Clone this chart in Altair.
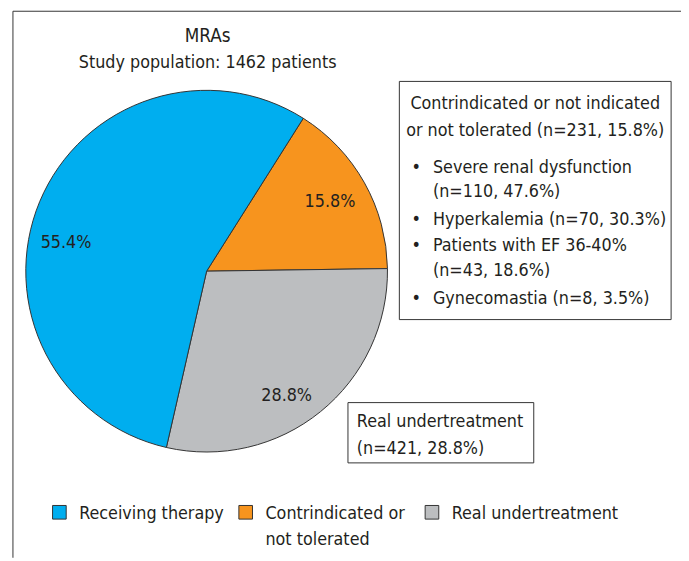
import math
import altair as alt
import pandas as pd

# ---- data ----
categories = ["Contrindicated or not tolerated", "Real undertreatment", "Receiving therapy"]
values = [15.8, 28.8, 55.4]
labels = ["15.8%", "28.8%", "55.4%"]
order = [0, 1, 2]
colors = ["#F7941E", "#BCBEC0", "#00AEEF"]

legend_cats = ["Receiving therapy", "Contrindicated or not tolerated", "Real undertreatment"]

title_lines = ["MRAs", "Study population: 1462 patients"]
box1_head = ["Contrindicated or not indicated", "or not tolerated (n=231, 15.8%)"]
box1_items = [
    ["Severe renal dysfunction", "(n=110, 47.6%)"],
    ["Hyperkalemia (n=70, 30.3%)"],
    ["Patients with EF 36-40%", "(n=43, 18.6%)"],
    ["Gynecomastia (n=8, 3.5%)"],
]
box2_lines = ["Real undertreatment", "(n=421, 28.8%)"]

FONT = "Liberation Sans Narrow, DejaVu Sans Condensed, sans-serif"
TXT = "#231F20"
FS = 18

df = pd.DataFrame({"cat": categories, "value": values, "label": labels, "order": order})

W, H = 681, 553
CX, CY, R = 201, 263, 183
start = math.radians(32.3)

color_scale = alt.Scale(domain=categories, range=colors)
theta = alt.Theta("value:Q", stack=True, scale=alt.Scale(range=[start, start + 2 * math.pi]))

base = alt.Chart(df)

pie = base.mark_arc(outerRadius=R, stroke="#333333", strokeWidth=1).encode(
    theta=theta,
    color=alt.Color("cat:N", scale=color_scale, legend=None),
    order=alt.Order("order:Q"),
    x=alt.value(CX), y=alt.value(CY),
)

label_style = {
    "Contrindicated or not tolerated": dict(radius=143, thetaOffset=0.0),
    "Real undertreatment": dict(radius=150, thetaOffset=0.11),
    "Receiving therapy": dict(radius=145, thetaOffset=-0.2),
}
label_layers = []
for c in categories:
    st = label_style[c]
    label_layers.append(
        base.mark_text(font=FONT, fontSize=FS, color=TXT, radius=st["radius"],
                       thetaOffset=st["thetaOffset"]).encode(
            theta=theta,
            order=alt.Order("order:Q"),
            text=alt.condition(alt.datum.cat == c, "label:N", alt.value("")),
            x=alt.value(CX), y=alt.value(CY),
        )
    )

def txt(s, x, y, align="left", size=FS):
    return alt.Chart(pd.DataFrame({"t": [s]})).mark_text(
        font=FONT, fontSize=size, color=TXT, align=align, baseline="alphabetic"
    ).encode(text="t:N", x=alt.value(x), y=alt.value(y))

def box(x1, y1, x2, y2):
    return alt.Chart(pd.DataFrame({"a": [0]})).mark_rect(
        fill="white", stroke="#333333", strokeWidth=1
    ).encode(x=alt.value(x1), x2=alt.value(x2), y=alt.value(y1), y2=alt.value(y2))

layers = [pie] + label_layers

# title
layers.append(txt(title_lines[0], CX + 1, 31, align="center", size=19))
layers.append(txt(title_lines[1], CX + 1, 57, align="center"))

# frame
layers.append(alt.Chart(pd.DataFrame({"a": [0]})).mark_rule(color="#333333", strokeWidth=1).encode(
    x=alt.value(5), y=alt.value(0), y2=alt.value(H)))
layers.append(alt.Chart(pd.DataFrame({"a": [0]})).mark_rule(color="#333333", strokeWidth=1).encode(
    x=alt.value(5), x2=alt.value(W), y=alt.value(0)))

# box 1
layers.append(box(396, 71, 671, 312))
layers.append(txt(box1_head[0], 533.5, 99, align="center"))
layers.append(txt(box1_head[1], 533.5, 126, align="center"))
ys = [164, 188, 216, 243, 268, 296]
i = 0
for item in box1_items:
    layers.append(txt("\u2022", 413, ys[i], align="center"))
    for line in item:
        layers.append(txt(line, 430, ys[i]))
        i += 1

# box 2
layers.append(box(344, 396, 532, 457))
layers.append(txt(box2_lines[0], 353, 421))
layers.append(txt(box2_lines[1], 353, 448))

# legend
leg_df = pd.DataFrame({"cat": legend_cats})
leg_x = alt.X("cat:N", sort=legend_cats, axis=None,
              scale=alt.Scale(type="point", domain=legend_cats, range=[52, 429], padding=0))
leg_sym = alt.Chart(leg_df).mark_square(size=190, stroke="#333333", strokeWidth=1, opacity=1).encode(
    x=leg_x, y=alt.value(507),
    color=alt.Color("cat:N", scale=color_scale, legend=None),
)
leg_txt = alt.Chart(leg_df).transform_calculate(
    lab="datum.cat == 'Contrindicated or not tolerated' ? 'Contrindicated or\\nnot tolerated' : datum.cat"
).mark_text(font=FONT, fontSize=FS, color=TXT, align="left", baseline="alphabetic",
            dx=20, lineBreak="\n", lineHeight=26).encode(
    x=leg_x, y=alt.value(514), text="lab:N",
)
layers += [leg_sym, leg_txt]

chart = alt.layer(*layers).resolve_scale(x="independent").properties(
    width=W, height=H, padding=0, autosize=alt.AutoSizeParams(type="none")
).configure_view(stroke=None)

chart.save("out.html", embed_options={"renderer": "svg", "actions": False})
